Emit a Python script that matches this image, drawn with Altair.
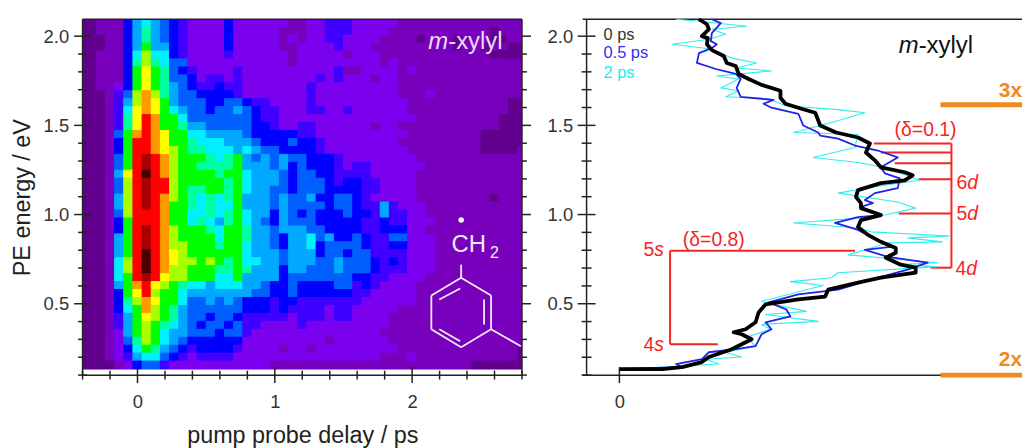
import altair as alt
import pandas as pd

FONT = "Liberation Sans"
INK = "#222222"
RED = "#f52525"
ORANGE = "#f08a1e"

# ---- map: colour level per pixel, top row first, delay columns -0.4 ... 2.8 ps
HEAT_ROWS = [
"0011146765 4322224222 2221122333 2222211111 111111111",
"0011146865 4322224222 2211122333 2222111111 111110111",
"0001146865 4322224222 2212122332 2221111011 101110011",
"0001146966 4322224222 2211222232 2211111111 101101100",
"0011147a77 4322223222 2221222221 2221111111 111110000",
"0011148a87 5522222222 2221222222 2221211111 111111111",
"0011149b98 5432222322 2222222231 1222212111 111111111",
"0011149b98 5542332322 2222223232 2212211111 111111111",
"0011249b98 6543343322 2222232222 2222211111 111111111",
"000135aca8 6554444322 2222232222 2222211121 111111111",
"000136acb9 6555445543 3222232222 2222221111 111111100",
"000137bcb9 7655455654 3322233223 2222221111 111111100",
"000138bdc9 9755555554 3322222222 2222222111 111111000",
"000138bdc9 9866555554 4322332222 2212211111 111111000",
"000159cdcb 9977666654 4444332222 2222221111 111100000",
"000149ddcb 9987776665 4445443222 2222211111 111100000",
"000149ddcb a988777676 5544443222 2222221111 111100001",
"000159dedc a999878965 6565544432 2222222111 111111111",
"000159dedc a998888966 6564544432 3322222211 111111111",
"00016bdfdc a999989976 6654554433 3322222111 111111111",
"00015adedd a999998976 6654555434 4332222111 111111111",
"00015adedd a988998976 6554555444 4332222111 111111111",
"00016adedc a987878966 6565564455 4322222111 111110111",
"00016adedc 9987877966 6565555455 4336322211 111111111",
"00015adddc 9977878976 6465454445 4436332211 111111111",
"000149dddc 9978768976 5465554444 4334332221 111111111",
"000149dedc a999879986 6566655444 4334442211 111111111",
"000169dedc a999979986 6546675644 5433552221 111111111",
"000169dedc aa99989976 6546674555 5433442221 111111111",
"000169dfdc ba99999976 6656664554 5533332221 111111111",
"00017adfdc baa9a98977 6656665565 5543432221 111111111",
"00017adfdc aa99988986 6646655565 5543332221 111111111",
"000179dedb aa99977966 6645555555 4433222211 111111111",
"000169cdba 9877677766 5445444455 3432222111 111111111",
"000149bda9 9766666665 5445444444 3322222111 111111111",
"000148acb9 9755656544 4344333333 3222222111 111111111",
"0001479ca9 8655555544 4343333233 2222211111 111111111",
"0001369ba9 8655455433 3332333233 2222111111 111111111",
"0001369a98 7654554533 2222322222 2222111111 111111111",
"0001269a97 6655545532 2222222222 2221111111 111111111",
"0001258a97 6544444422 2222222122 2222111111 111111111",
"0001247986 5434444322 2212212222 2222211111 111111110",
"0001236775 4323333222 2222222222 2221112111 111111110",
"0000124553 2222222222 2111111111 1111111111 111000000",
]
HEAT_COLORS = ["#62008e", "#7800bc", "#7a00ee", "#4000ff", "#0000ff", "#0060ff",
               "#00a8ff", "#00f0ff", "#00ffa0", "#00ff00", "#a8ff00", "#ffff00",
               "#ff9900", "#ff0000", "#a80000", "#480000"]
DT = 0.0667
DE = 0.04457
E_TOP = 2.095

# ---- spectra: intensity, energy
I_0 = [80,88,90,83,89,88,93,105,108,117,120,130,143,162,162,167,183,197,202,218,240,252,248,257,263,287,295,287,263,240,238,243,243,263,243,240,250,263,278,278,268,283,298,298,263,240,210,207,180,147,140,137,127,115,123,133,113,90,83,63,43,0]
E_0 = [2.095,2.067,2.039,2.000,1.989,1.955,1.922,1.889,1.850,1.833,1.788,1.760,1.727,1.694,1.655,1.621,1.593,1.571,1.499,1.460,1.432,1.398,1.348,1.304,1.265,1.237,1.220,1.192,1.176,1.137,1.098,1.064,1.036,.997,.969,.930,.886,.847,.813,.786,.758,.719,.702,.674,.646,.618,.579,.540,.524,.496,.451,.396,.357,.340,.329,.301,.245,.201,.173,.145,.134,.134]
I_05 = [93,102,93,92,98,93,80,78,97,117,122,118,122,155,145,153,180,185,200,202,220,237,260,280,263,267,282,280,257,247,255,242,260,263,240,217,240,253,263,273,247,270,310,290,253,220,180,150,168,172,147,153,143,137,117,90,83,57,63,0]
E_05 = [2.095,2.073,2.017,1.972,1.955,1.933,1.905,1.850,1.816,1.788,1.760,1.710,1.660,1.643,1.621,1.599,1.565,1.499,1.460,1.443,1.426,1.387,1.359,1.320,1.265,1.231,1.203,1.148,1.120,1.081,1.064,1.042,1.008,.997,.986,.953,.914,.875,.847,.819,.802,.763,.730,.691,.635,.579,.552,.507,.468,.429,.396,.357,.329,.262,.245,.228,.189,.162,.145,.134]
I_2 = [57,80,128,93,107,90,53,92,113,138,118,153,98,120,102,120,107,150,167,220,247,210,175,240,237,195,240,270,302,253,220,280,298,267,240,175,240,253,333,290,325,270,230,287,320,280,320,220,213,172,205,143,188,147,200,143,152,128,137,107,123,87,100,47,0]
E_2 = [2.095,2.084,2.056,2.039,2.011,1.983,1.955,1.928,1.877,1.850,1.822,1.805,1.777,1.760,1.710,1.694,1.660,1.649,1.610,1.588,1.571,1.510,1.460,1.449,1.376,1.320,1.292,1.259,1.192,1.153,1.120,1.070,1.036,.997,.980,.953,.925,.903,.880,.869,.847,.841,.774,.747,.730,.719,.708,.674,.646,.624,.602,.513,.457,.440,.401,.384,.357,.312,.262,.228,.201,.189,.162,.145,.134]

# ---- ticks
X_MAJOR = [0, 1, 2]
X_MINOR = [-0.4, -0.2, 0.2, 0.4, 0.6, 0.8, 1.2, 1.4, 1.6, 1.8, 2.2, 2.4, 2.6, 2.8]
Y_MAJOR = [0.5, 1.0, 1.5, 2.0]
Y_MINOR = [0.1, 0.2, 0.3, 0.4, 0.6, 0.7, 0.8, 0.9, 1.1, 1.2, 1.3, 1.4, 1.6, 1.7, 1.8, 1.9]

# ---- annotation tables
X_END = 405
RED_LINES = pd.DataFrame({
    "x":  [334, 256, 263, 277, 301, 281, 313, 51, 51, 51],
    "x2": [334, 334, 334, 334, 334, 334, 334, 51, 237, 99],
    "y":  [1.398, 1.398, 1.348, 1.287, 1.198, 1.006, .702, .797, .797, .273],
    "y2": [.702, 1.398, 1.348, 1.287, 1.198, 1.006, .702, .273, .797, .273],
})
ORANGE_LINES = pd.DataFrame({"x": [323, 323], "x2": [X_END, X_END], "y": [1.615, .0997], "y2": [1.615, .0997]})
RIGHT_FRAME = pd.DataFrame({"x": [-37, -37, -33], "x2": [X_END, X_END, -33], "y": [2.095, .0997, 2.095], "y2": [2.095, .0997, .0997]})
LEFT_FRAME = pd.DataFrame({"x": [-.4, -.4, -.4, 2.8], "x2": [2.8, 2.8, -.4, 2.8], "y": [2.095, .0997, 2.095, 2.095], "y2": [2.095, .0997, .0997, .0997]})
BONDS = pd.DataFrame({
    "x":  [2.357, 2.575, 2.575, 2.357, 2.140, 2.140, 2.357, 2.575, 2.198, 2.524, 2.198],
    "x2": [2.575, 2.575, 2.357, 2.140, 2.140, 2.357, 2.357, 2.792, 2.350, 2.524, 2.350],
    "y":  [.646, .546, .357, .256, .357, .546, .719, .357, .524, .524, .357],
    "y2": [.546, .357, .256, .357, .546, .646, .646, .262, .585, .384, .290],
})

ys = alt.Scale(domain=[0.0997, 2.095], nice=False, zero=False)
common = dict(ticks=False, domain=False, grid=False, labelFontSize=18.5, labelColor="#333333", labelFont=FONT,
              titleFont=FONT, titleFontWeight="normal", titleColor="#222222")

# each panel: the same scale and axis on every layer, so that Vega-Lite keeps one axis
LEFT = {
    "xs": alt.Scale(domain=[-0.4, 2.8], nice=False, zero=False),
    "xa": alt.Axis(values=X_MAJOR, format="d", labelPadding=18, title="pump probe delay / ps",
                   titleFontSize=23.5, titlePadding=12, **common),
    "ya": alt.Axis(values=Y_MAJOR, format=".1f", labelPadding=14, title="PE energy / eV",
                   titleFontSize=23.5, titlePadding=9, **common),
}
RIGHT = {
    "xs": alt.Scale(domain=[-33, X_END], nice=False, zero=False),
    "xa": alt.Axis(values=[0], format="d", labelPadding=18, title=None, **common),
    "ya": alt.Axis(values=Y_MAJOR, format=".1f", labelPadding=14, title=None, **common),
}


def X(p, f="x:Q"):
    return alt.X(f, scale=p["xs"], axis=p["xa"])


def Y(p, f="y:Q"):
    return alt.Y(f, scale=ys, axis=p["ya"])


def segs(df, p, color, width):
    return alt.Chart(df).mark_rule(color=color, strokeWidth=width).encode(x=X(p), x2="x2:Q", y=Y(p), y2="y2:Q")


def xticks(vals, p, at, length):
    df = pd.DataFrame({"x": vals, "y": [at] * len(vals)})
    return alt.Chart(df).mark_tick(orient="vertical", size=length, thickness=1.5, color=INK, opacity=1).encode(x=X(p), y=Y(p))


def yticks(vals, p, at, length):
    df = pd.DataFrame({"x": [at] * len(vals), "y": vals})
    return alt.Chart(df).mark_tick(orient="horizontal", size=length, thickness=1.5, color=INK, opacity=1).encode(x=X(p), y=Y(p))


def label(p, x, y, text, color, size, align="left", style="normal", weight="normal"):
    df = pd.DataFrame({"x": [x], "y": [y], "t": [text]})
    return alt.Chart(df).mark_text(color=color, fontSize=size, align=align, baseline="middle", font=FONT,
                                   fontStyle=style, fontWeight=weight).encode(x=X(p), y=Y(p), text="t:N")


cells = []
for r, row in enumerate(HEAT_ROWS):
    for c, ch in enumerate(row.replace(" ", "")):
        k = c - 6
        cells.append({"t0": (k - .5) * DT, "t1": (k + .5) * DT,
                      "e0": E_TOP - r * DE, "e1": E_TOP - (r + 1) * DE, "v": int(ch, 16)})
heat_scale = alt.Scale(domain=list(range(16)), range=HEAT_COLORS)
heat = alt.Chart(pd.DataFrame(cells)).mark_rect(clip=True, strokeWidth=1).encode(
    x=X(LEFT, "t0:Q"), x2="t1:Q", y=Y(LEFT, "e0:Q"), y2="e1:Q",
    color=alt.Color("v:Q", scale=heat_scale, legend=None),
    stroke=alt.Stroke("v:Q", scale=heat_scale, legend=None),
)

dot = alt.Chart(pd.DataFrame({"x": [2.357], "y": [.969]})).mark_point(filled=True, color="white", size=30, opacity=1).encode(
    x=X(LEFT), y=Y(LEFT))

left = alt.layer(
    heat,
    segs(LEFT_FRAME, LEFT, INK, 1.5),
    xticks(X_MAJOR, LEFT, 0.0997, 16), xticks(X_MINOR, LEFT, 0.0997, 9),
    yticks(Y_MAJOR, LEFT, -0.4, 17), yticks(Y_MINOR, LEFT, -0.4, 9),
    yticks(Y_MAJOR, LEFT, 2.833, 9), yticks(Y_MINOR, LEFT, 2.818, 5),
    segs(BONDS, LEFT, "#f4eaf6", 1.8),
    dot,
    label(LEFT, 2.287, .830, "CH", "#f4eaf6", 24),
    label(LEFT, 2.60, .786, "2", "#f4eaf6", 16, align="center"),
    label(LEFT, 2.263, 1.967, "m", "#eadcf2", 24, align="right", style="italic"),
    label(LEFT, 2.263, 1.967, "-xylyl", "#eadcf2", 24),
).properties(width=442, height=358)


def curve(I, E, color, width):
    df = pd.DataFrame({"x": I, "y": E, "i": list(range(len(I)))})
    return alt.Chart(df).mark_line(color=color, strokeWidth=width, strokeJoin="round").encode(
        x=X(RIGHT), y=Y(RIGHT), order="i:Q")


right = alt.layer(
    segs(RIGHT_FRAME, RIGHT, INK, 1.5),
    xticks([0], RIGHT, 0.0997, 16),
    yticks(Y_MAJOR, RIGHT, -33, 18), yticks(Y_MINOR, RIGHT, -33, 10),
    segs(ORANGE_LINES, RIGHT, ORANGE, 5),
    segs(RED_LINES, RIGHT, RED, 2),
    curve(I_2, E_2, "#30eeee", 1.1),
    curve(I_05, E_05, "#2222e6", 1.8),
    curve(I_0, E_0, "#000000", 3.8),
    label(RIGHT, -16, 2.008, "0 ps", "#333333", 16.5),
    label(RIGHT, -16, 1.905, "0.5 ps", "#3030ee", 16.5),
    label(RIGHT, -16, 1.794, "2 ps", "#10f0f0", 16.5),
    label(RIGHT, 301, 1.944, "m", "#111111", 24, align="right", style="italic"),
    label(RIGHT, 301, 1.944, "-xylyl", "#111111", 24),
    label(RIGHT, 308, 1.476, "(\u03b4=0.1)", RED, 19.5, align="center"),
    label(RIGHT, 95, .858, "(\u03b4=0.8)", RED, 19.5, align="center"),
    label(RIGHT, 350, 1.176, "6", RED, 19.5, align="right"),
    label(RIGHT, 350, 1.176, "d", RED, 19.5, style="italic"),
    label(RIGHT, 350, 1.003, "5", RED, 19.5, align="right"),
    label(RIGHT, 350, 1.003, "d", RED, 19.5, style="italic"),
    label(RIGHT, 349, .696, "4", RED, 19.5, align="right"),
    label(RIGHT, 349, .696, "d", RED, 19.5, style="italic"),
    label(RIGHT, 35, .802, "5", RED, 19.5, align="right"),
    label(RIGHT, 35, .802, "s", RED, 19.5, style="italic"),
    label(RIGHT, 35, .267, "4", RED, 19.5, align="right"),
    label(RIGHT, 35, .267, "s", RED, 19.5, style="italic"),
    label(RIGHT, X_END, 1.694, "3x", ORANGE, 21, align="right", weight="bold"),
    label(RIGHT, X_END, .184, "2x", ORANGE, 21, align="right", weight="bold"),
).properties(width=438, height=358)

chart = alt.hconcat(left, right, spacing=15, padding={"left": 2, "top": 8, "right": 0, "bottom": 0}).configure_view(stroke=None)
chart.save("out.html", embed_options={"renderer": "svg", "actions": False})
